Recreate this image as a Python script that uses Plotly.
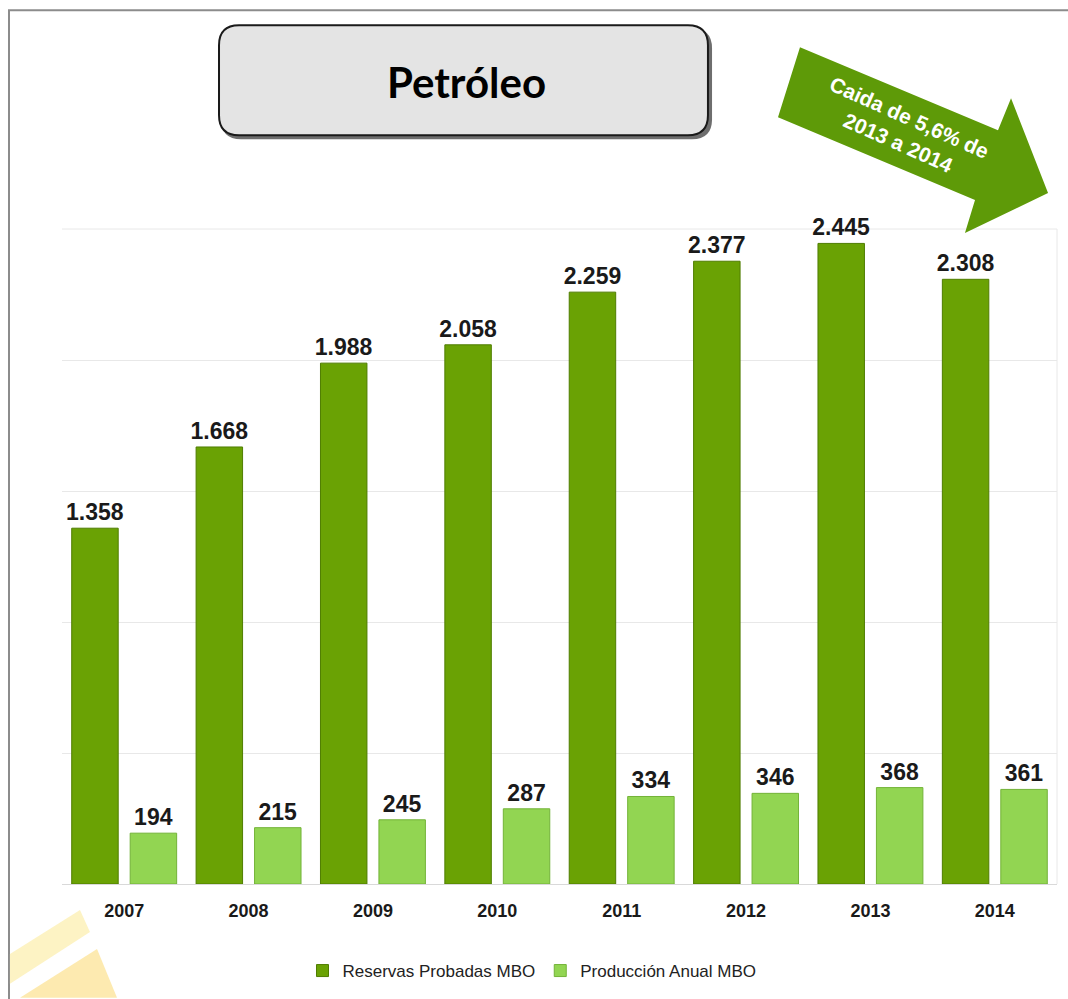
import plotly.graph_objects as go

# datos
years = ["2007", "2008", "2009", "2010", "2011", "2012", "2013", "2014"]
reservas = [1358, 1668, 1988, 2058, 2259, 2377, 2445, 2308]
produccion = [194, 215, 245, 287, 334, 346, 368, 361]
reservas_labels = ["1.358", "1.668", "1.988", "2.058", "2.259", "2.377", "2.445", "2.308"]
produccion_labels = [str(v) for v in produccion]

W, H = 1068, 999
L, R, T, B = 62, 1057, 229, 885  # area de trazado en pixeles


def px(x):
    return (x - L) / (R - L)


def py(y):
    return (B - y) / (B - T)


def path(points):
    return "M " + " L ".join(f"{px(x):.4f},{py(y):.4f}" for x, y in points) + " Z"


def rounded(x0, y0, x1, y1, r):
    pts = [
        f"M {px(x0 + r):.4f},{py(y0):.4f}",
        f"L {px(x1 - r):.4f},{py(y0):.4f}",
        f"Q {px(x1):.4f},{py(y0):.4f} {px(x1):.4f},{py(y0 + r):.4f}",
        f"L {px(x1):.4f},{py(y1 - r):.4f}",
        f"Q {px(x1):.4f},{py(y1):.4f} {px(x1 - r):.4f},{py(y1):.4f}",
        f"L {px(x0 + r):.4f},{py(y1):.4f}",
        f"Q {px(x0):.4f},{py(y1):.4f} {px(x0):.4f},{py(y1 - r):.4f}",
        f"L {px(x0):.4f},{py(y0 + r):.4f}",
        f"Q {px(x0):.4f},{py(y0):.4f} {px(x0 + r):.4f},{py(y0):.4f}",
        "Z",
    ]
    return " ".join(pts)


label_font = dict(family="Liberation Sans", size=23, color="#1a1a1a", weight="bold")

fig = go.Figure()

fig.add_trace(go.Bar(
    x=years, y=reservas, name="Reservas Probadas MBO",
    marker=dict(color="#6aa204", line=dict(color="#4f7d00", width=1)),
    text=reservas_labels, textposition="outside", cliponaxis=False,
    constraintext="none", textfont=label_font,
))
fig.add_trace(go.Bar(
    x=years, y=produccion, name="Producción Anual MBO",
    marker=dict(color="#92d552", line=dict(color="#73b338", width=1)),
    text=produccion_labels, textposition="outside", cliponaxis=False,
    constraintext="none", textfont=label_font,
))

shapes = [
    # marco
    dict(type="rect", xref="paper", yref="paper", x0=px(9), y0=py(10), x1=px(1075), y1=py(1010),
         line=dict(color="#8c8c8c", width=2), fillcolor="rgba(0,0,0,0)", layer="below"),
    # marca de agua amarilla
    dict(type="path", xref="paper", yref="paper", path=path([(10, 955), (80, 911), (90, 933), (10, 985)]),
         fillcolor="#fdf3c4", line=dict(width=0), layer="below"),
    dict(type="path", xref="paper", yref="paper", path=path([(20, 999), (97, 950), (117, 999)]),
         fillcolor="#fdeab0", line=dict(width=0), layer="below"),
    # borde derecho y linea superior del area
    dict(type="line", xref="paper", yref="paper", x0=1, x1=1, y0=0, y1=1,
         line=dict(color="#e8e8e8", width=1), layer="below"),
    dict(type="line", xref="paper", yref="paper", x0=0, x1=1, y0=1, y1=1,
         line=dict(color="#e8e8e8", width=1), layer="below"),
    # caja del titulo (sombra + caja)
    dict(type="path", xref="paper", yref="paper", path=rounded(221, 28, 712, 139, 20),
         fillcolor="#6e6e6e", line=dict(width=0)),
    dict(type="path", xref="paper", yref="paper", path=rounded(219, 25, 708, 135, 20),
         fillcolor="#e4e4e4", line=dict(color="#1a1a1a", width=2)),
    # flecha
    dict(type="path", xref="paper", yref="paper",
         path=path([(800, 47), (998, 130), (1011, 98), (1048, 193), (965, 233), (975, 200), (778, 117)]),
         fillcolor="#5e9a08", line=dict(width=0)),
]

annotations = [
    dict(text="<b>Petróleo</b>", xref="paper", yref="paper", x=px(466), y=py(82),
         xanchor="center", yanchor="middle",
         showarrow=False, font=dict(family="Lato", size=42, color="#000000")),
    dict(text="<b>Caida de 5,6% de<br>2013 a 2014</b>", xref="paper", yref="paper", x=px(904), y=py(130),
         xanchor="center", yanchor="middle",
         showarrow=False, textangle=24, font=dict(family="Liberation Sans", size=21, color="#ffffff")),
]

fig.update_layout(
    width=W, height=H,
    margin=dict(l=L, r=W - R, t=T, b=H - B),
    paper_bgcolor="#ffffff", plot_bgcolor="#ffffff",
    barmode="group", bargap=0.06, bargroupgap=0.205,
    shapes=shapes, annotations=annotations,
    showlegend=True,
    legend=dict(orientation="h", x=px(532), y=py(971), xanchor="center", yanchor="middle",
                font=dict(family="Liberation Sans", size=17, color="#222222"),
                itemwidth=30, bgcolor="rgba(0,0,0,0)"),
    xaxis=dict(showgrid=False, ticks="", showline=True, linecolor="#d9d9d9", linewidth=1,
               ticklabelstandoff=10,
               tickfont=dict(family="Liberation Sans", size=18, color="#1a1a1a", weight="bold")),
    yaxis=dict(range=[0, 2500], dtick=500, showgrid=True, gridcolor="#e8e8e8", gridwidth=1,
               showticklabels=False, zeroline=False, fixedrange=True),
)

fig.write_html("out.html", config={"displayModeBar": False},
               post_script="document.body.style.margin='0';")
